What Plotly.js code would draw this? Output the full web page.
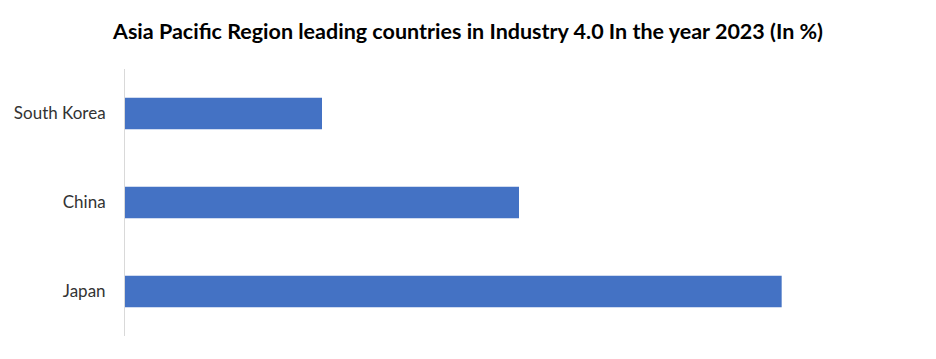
<!DOCTYPE html>
<html>
<head>
<meta charset="utf-8">
<script src="https://cdn.plot.ly/plotly-3.0.1.min.js"></script>
<style>html,body{margin:0;padding:0;background:#fff;}#chart{width:936px;height:359px;}</style>
</head>
<body>
<div id="chart"></div>
<script>
const categories = ['Japan', 'China', 'South Korea'];
const shares = [50, 30, 15];
const chartTitle = 'Asia Pacific Region leading countries in Industry 4.0 In the year 2023 (In %)';

Plotly.newPlot('chart', [{
  type: 'bar',
  orientation: 'h',
  y: categories,
  x: shares,
  marker: {color: '#4472C4'},
  hoverinfo: 'x+y'
}], {
  width: 936,
  height: 359,
  margin: {l: 125, r: 23, t: 69, b: 23},
  paper_bgcolor: '#ffffff',
  plot_bgcolor: '#ffffff',
  bargap: 0.646,
  showlegend: false,
  title: {
    text: chartTitle,
    x: 0.5, xref: 'container', xanchor: 'center',
    y: 1 - 31/359, yref: 'container', yanchor: 'middle',
    font: {family: 'Lato, "Open Sans", sans-serif', size: 21.5, color: '#000000', weight: 'bold'}
  },
  xaxis: {
    range: [0, 60],
    showgrid: false,
    zeroline: false,
    showline: false,
    showticklabels: false,
    ticks: ''
  },
  yaxis: {
    showline: true,
    linecolor: '#d9d9d9',
    linewidth: 1,
    showgrid: false,
    zeroline: false,
    ticks: '',
    ticklabelstandoff: 15,
    tickfont: {family: 'Lato, "Open Sans", sans-serif', size: 17, color: '#333333'}
  }
}, {displayModeBar: false, staticPlot: true});
</script>
</body>
</html>
